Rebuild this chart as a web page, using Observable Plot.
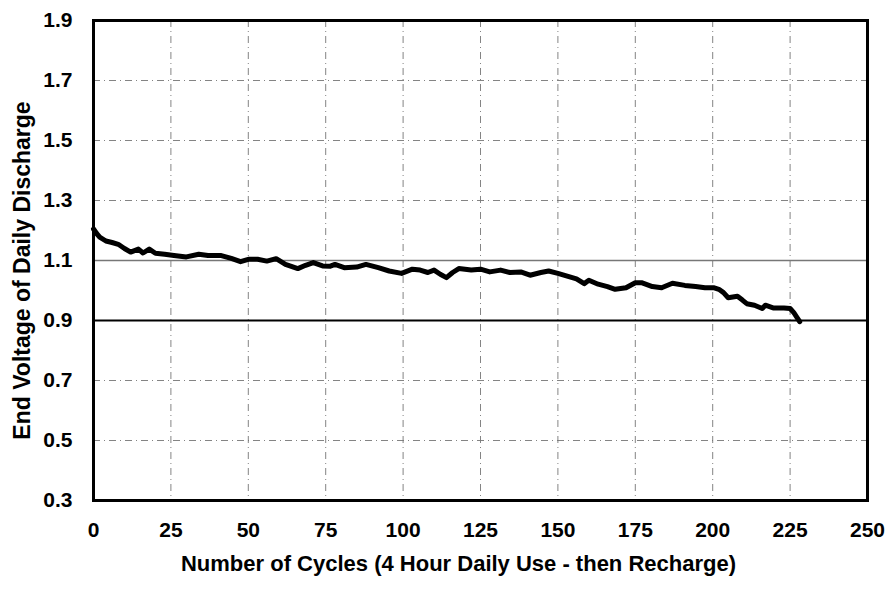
<!DOCTYPE html>
<html>
<head>
<meta charset="utf-8">
<script src="https://cdn.jsdelivr.net/npm/d3@7"></script>
<script src="https://cdn.jsdelivr.net/npm/@observablehq/plot@0.6"></script>
<style>
  body { margin: 0; background: #fff; }
</style>
</head>
<body>
<div id="chart"></div>
<script>
const cycles = [0, 1, 2, 4, 6, 8, 10, 12, 14.5, 16, 18, 20, 23, 26, 30, 34, 37, 41, 44.5, 47.5, 50, 53, 56, 59, 62, 66, 68.5, 71, 74, 76.5, 78, 81, 85, 88, 92, 95.5, 99.5, 103, 105.5, 108, 110, 112, 114, 116, 118, 122, 125, 128, 131.5, 134.5, 138, 141, 144.5, 147, 150, 153, 156, 158.5, 160, 163, 166, 168.5, 172, 175, 177, 180.5, 183.5, 187, 191, 194.5, 197.5, 200.5, 202, 203.5, 205, 208, 209.5, 211, 213.5, 216, 217, 219.5, 223, 225, 226.2, 227.3, 228.1];
const voltage = [1.205, 1.19, 1.178, 1.165, 1.16, 1.154, 1.14, 1.128, 1.138, 1.125, 1.138, 1.124, 1.121, 1.117, 1.112, 1.121, 1.117, 1.117, 1.107, 1.096, 1.104, 1.104, 1.098, 1.106, 1.087, 1.073, 1.084, 1.093, 1.082, 1.081, 1.087, 1.076, 1.078, 1.087, 1.076, 1.065, 1.057, 1.071, 1.068, 1.06, 1.068, 1.054, 1.043, 1.06, 1.073, 1.068, 1.071, 1.062, 1.068, 1.06, 1.062, 1.051, 1.06, 1.065, 1.057, 1.048, 1.039, 1.023, 1.034, 1.021, 1.013, 1.004, 1.009, 1.026, 1.026, 1.013, 1.009, 1.024, 1.017, 1.013, 1.009, 1.009, 1.004, 0.993, 0.976, 0.981, 0.969, 0.956, 0.951, 0.94, 0.951, 0.942, 0.942, 0.94, 0.926, 0.909, 0.896];
const xTicks = [0, 25, 50, 75, 100, 125, 150, 175, 200, 225, 250];
const yTicks = [0.3, 0.5, 0.7, 0.9, 1.1, 1.3, 1.5, 1.7, 1.9];
const dashedY = [0.5, 0.7, 1.3, 1.5, 1.7];
const solidGrayY = [1.1];
const cutoffY = [0.9];
const gridX = [25, 50, 75, 100, 125, 150, 175, 200, 225];
const xTitle = "Number of Cycles (4 Hour Daily Use - then Recharge)";
const yTitle = "End Voltage of Daily Discharge";

const data = cycles.map((c, i) => ({cycle: c, v: voltage[i]}));

const chart = Plot.plot({
  width: 891,
  height: 592,
  marginLeft: 93,
  marginRight: 24,
  marginTop: 20,
  marginBottom: 92,
  style: {fontFamily: "'Liberation Sans', Arial, sans-serif", fontWeight: "bold", fontSize: "21px", color: "#000", background: "#fff"},
  x: {domain: [0, 250], ticks: xTicks},
  y: {domain: [0.3, 1.9], ticks: yTicks},
  marks: [
    Plot.ruleX(gridX, {stroke: "#777", strokeWidth: 1, strokeDasharray: "7,4,1,4", strokeOpacity: 0.9}),
    Plot.ruleY(dashedY, {stroke: "#777", strokeWidth: 1, strokeDasharray: "7,4,1,4", strokeOpacity: 0.9}),
    Plot.ruleY(solidGrayY, {stroke: "#777", strokeWidth: 1.5}),
    Plot.ruleY(cutoffY, {stroke: "#000", strokeWidth: 2}),
    Plot.axisX({ticks: xTicks, tickSize: 0, tickPadding: 22, tickFormat: d => String(d), label: null, fontSize: 21, fontWeight: "bold"}),
    Plot.axisY({ticks: yTicks, tickSize: 0, tickPadding: 21, tickFormat: d => d.toFixed(1), label: null, fontSize: 21, fontWeight: "bold"}),
    Plot.text([xTitle], {frameAnchor: "bottom", textAnchor: "middle", dy: 70, dx: -22, fontSize: 22, fontWeight: "bold"}),
    Plot.text([yTitle], {frameAnchor: "left", textAnchor: "middle", rotate: -90, dx: -71, dy: 10, fontSize: 23, fontWeight: "bold"}),
    Plot.line(data, {x: "cycle", y: "v", stroke: "#000", strokeWidth: 5, strokeLinejoin: "round", strokeLinecap: "round"}),
    Plot.frame({stroke: "#000", strokeWidth: 3})
  ]
});
document.getElementById("chart").appendChild(chart);
</script>
</body>
</html>
